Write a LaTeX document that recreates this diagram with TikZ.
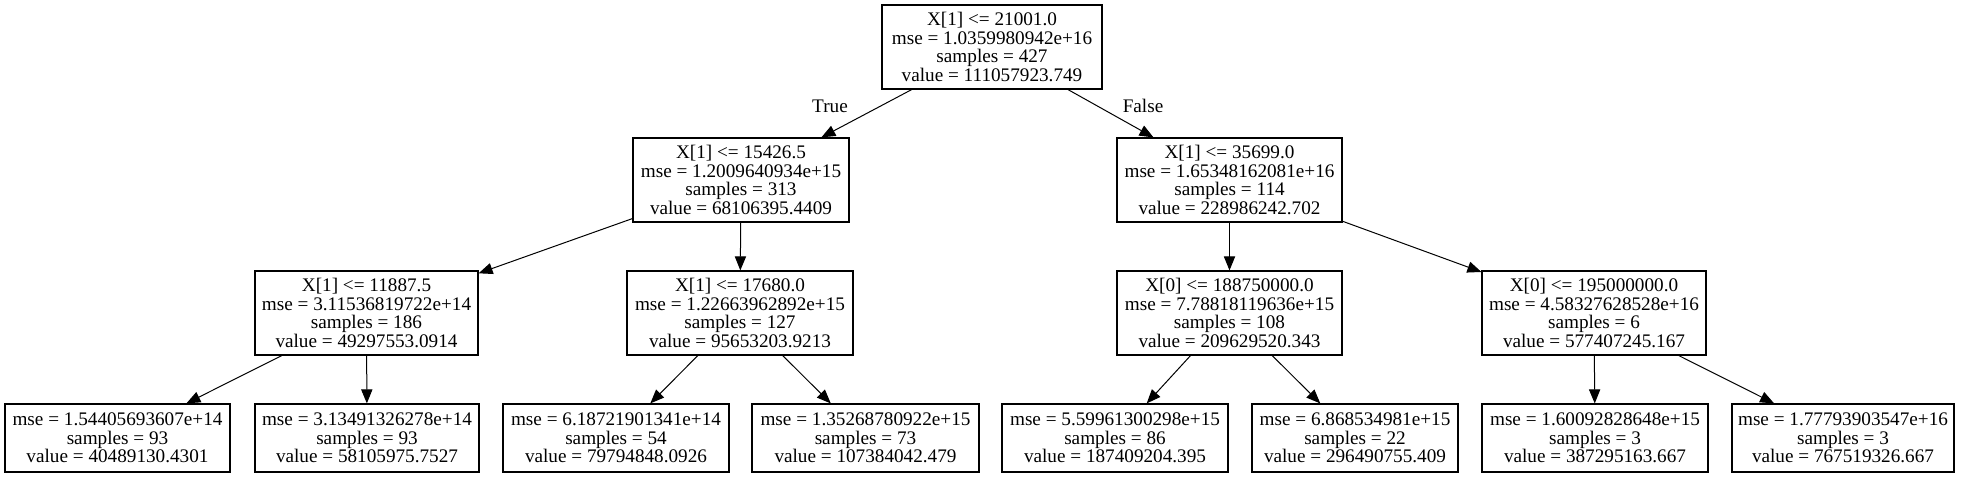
\documentclass[tikz,border=0pt]{standalone}
\usepackage{fontspec}
\setmainfont{Liberation Serif}
\usetikzlibrary{arrows.meta}

\begin{document}
\begin{tikzpicture}[->,>={Triangle[length=7pt,width=5.6pt]},x=0.5pt,y=-0.5pt,
  split node/.style={rectangle,draw,line width=0.6pt,align=center,inner sep=0pt,
    minimum height=42pt,font=\fontsize{9.6}{9.3}\selectfont},
  leaf node/.style={split node,minimum height=34pt}]
  \useasboundingbox (0,0) rectangle (1963,477);

  \node[split node,minimum width=110pt] (0) at (992,47)
    {X[1] <= 21001.0\\mse = 1.0359980942e+16\\samples = 427\\value = 111057923.749};
  \node[split node,minimum width=108pt] (1) at (741,180)
    {X[1] <= 15426.5\\mse = 1.2009640934e+15\\samples = 313\\value = 68106395.4409};
  \node[split node,minimum width=112.5pt] (8) at (1229.5,180)
    {X[1] <= 35699.0\\mse = 1.65348162081e+16\\samples = 114\\value = 228986242.702};
  \node[split node,minimum width=111.5pt] (2) at (366.5,313)
    {X[1] <= 11887.5\\mse = 3.11536819722e+14\\samples = 186\\value = 49297553.0914};
  \node[split node,minimum width=113pt] (5) at (740,313)
    {X[1] <= 17680.0\\mse = 1.22663962892e+15\\samples = 127\\value = 95653203.9213};
  \node[split node,minimum width=112.5pt] (9) at (1229.5,313)
    {X[0] <= 188750000.0\\mse = 7.78818119636e+15\\samples = 108\\value = 209629520.343};
  \node[split node,minimum width=112pt] (12) at (1594,313)
    {X[0] <= 195000000.0\\mse = 4.58327628528e+16\\samples = 6\\value = 577407245.167};

  \node[leaf node,minimum width=112.5pt] (3) at (117.5,438)
    {mse = 1.54405693607e+14\\samples = 93\\value = 40489130.4301};
  \node[leaf node,minimum width=112pt] (4) at (367,438)
    {mse = 3.13491326278e+14\\samples = 93\\value = 58105975.7527};
  \node[leaf node,minimum width=113pt] (6) at (616,438)
    {mse = 6.18721901341e+14\\samples = 54\\value = 79794848.0926};
  \node[leaf node,minimum width=113.5pt] (7) at (865.5,438)
    {mse = 1.35268780922e+15\\samples = 73\\value = 107384042.479};
  \node[leaf node,minimum width=113pt] (10) at (1115,438)
    {mse = 5.59961300298e+15\\samples = 86\\value = 187409204.395};
  \node[leaf node,minimum width=103pt] (11) at (1355,438)
    {mse = 6.868534981e+15\\samples = 22\\value = 296490755.409};
  \node[leaf node,minimum width=113pt] (13) at (1595,438)
    {mse = 1.60092828648e+15\\samples = 3\\value = 387295163.667};
  \node[leaf node,minimum width=111pt] (14) at (1843,438)
    {mse = 1.77793903547e+16\\samples = 3\\value = 767519326.667};

  \node[font=\fontsize{9.6}{9.3}\selectfont] (true) at (830,106) {True};
  \node[font=\fontsize{9.6}{9.3}\selectfont] (false) at (1143,106) {False};

  \path[line width=0.5pt]
    (0) edge (1)
        edge (8)
    (1) edge (2)
        edge (5)
    (2) edge (3)
        edge (4)
    (5) edge (6)
        edge (7)
    (8) edge (9)
        edge (12)
    (9) edge (10)
        edge (11)
    (12) edge (13)
         edge (14);
\end{tikzpicture}
\end{document}
